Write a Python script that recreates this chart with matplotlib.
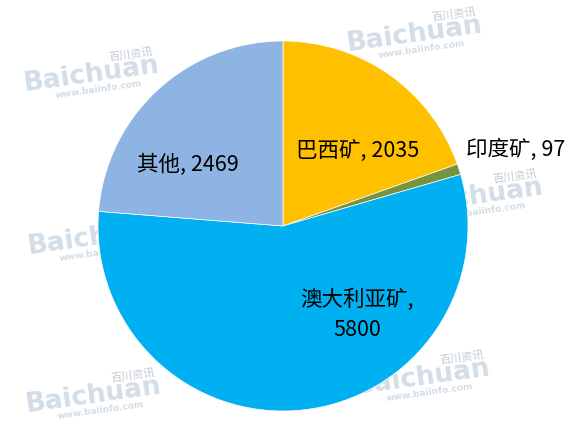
import matplotlib
matplotlib.use("Agg")
import matplotlib.pyplot as plt

plt.rcParams['font.family'] = ['Noto Sans CJK SC', 'DejaVu Sans']

names = ["巴西矿", "印度矿", "澳大利亚矿", "其他"]
values = [2035, 97, 5800, 2469]
colors = ["#FFC000", "#77933C", "#00B0F0", "#8DB4E2"]

W, H = 587, 428
fig = plt.figure(figsize=(W / 100, H / 100), dpi=100)
ax = fig.add_axes([0, 0, 1, 1])
ax.set_xlim(0, W)
ax.set_ylim(0, H)
ax.axis('off')

# watermarks (decorative)
wm_pos = [(414, 393), (91, 353), (95, 190), (475, 231), (422, 50), (93, 32)]
for (x, y) in wm_pos:
    ax.text(x, y, "Baichuan", fontsize=19, fontweight='bold', color='#AFC2D4',
            rotation=8, ha='center', va='center', family='DejaVu Sans',
            alpha=0.55, zorder=0)
    ax.text(x + 40, y + 21, "百川资讯", fontsize=8, color='#9AA7B4',
            rotation=8, ha='center', va='center', alpha=0.6, zorder=0)
    ax.text(x + 8, y - 14, "www.baiinfo.com", fontsize=6.5, fontweight='bold',
            color='#AFC2D4', rotation=8, ha='center', va='center',
            family='DejaVu Sans', alpha=0.55, zorder=0)

cx, cy, r = 283, 202, 185
wedges, _ = ax.pie(values, colors=colors, startangle=90, counterclock=False,
                   center=(cx, cy), radius=r, frame=True,
                   wedgeprops=dict(edgecolor='white', linewidth=0.5))
for w in wedges:
    w.set_zorder(2)
ax.set_xlim(0, W)
ax.set_ylim(0, H)
ax.axis('off')

label_pos = [(358, 276, 'center'), (466, 278, 'left'), (357, 113, 'center'), (188, 263, 'center')]
for i, (x, y, ha) in enumerate(label_pos):
    if names[i] == "澳大利亚矿":
        txt = f"{names[i]},\n{values[i]}"
    else:
        txt = f"{names[i]}, {values[i]}"
    ax.text(x, y, txt, fontsize=15.5, ha=ha, va='center', color='black',
            zorder=5, linespacing=1.45)

fig.savefig("out.png", dpi=100)
